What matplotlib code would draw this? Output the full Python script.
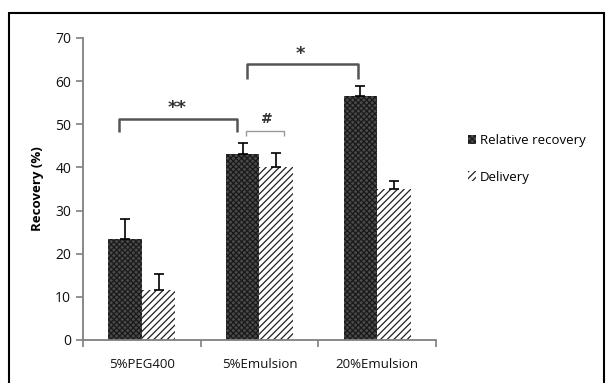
import numpy as np
import matplotlib
matplotlib.use("Agg")
import matplotlib.pyplot as plt
from matplotlib.patches import Rectangle

plt.rcParams['font.family'] = ['Open Sans', 'DejaVu Sans']
plt.rcParams['hatch.linewidth'] = 0.9

# data
groups = ["5%PEG400", "5%Emulsion", "20%Emulsion"]
relative_recovery = [23.5, 43.0, 56.5]
relative_err = [4.5, 2.7, 2.3]
delivery = [11.7, 40.2, 35.0]
delivery_err = [3.6, 3.1, 1.8]

fig = plt.figure(figsize=(6.08, 3.83), dpi=100)
ax = fig.add_axes([0.1365, 0.1123, 0.5806, 0.7885])

x = np.arange(len(groups))
w = 0.285
ax.bar(x - w / 2, relative_recovery, w, facecolor='#4a4a4a', edgecolor='#1a1a1a',
       hatch='xxxxxx', linewidth=0, label='Relative recovery')
ax.bar(x + w / 2, delivery, w, facecolor='white', edgecolor='#202020',
       hatch='/////', linewidth=0, label='Delivery')
ax.errorbar(x - w / 2, relative_recovery, yerr=[np.zeros(3), relative_err], fmt='none',
            ecolor='black', elinewidth=1.2, capsize=3.5, capthick=1.2)
ax.errorbar(x + w / 2, delivery, yerr=[np.zeros(3), delivery_err], fmt='none',
            ecolor='black', elinewidth=1.2, capsize=3.5, capthick=1.2)


def bracket(x0, x1, ylow, yhigh, text, ty, tx, color='#555555', lw=1.8, fs=13):
    ax.plot([x0, x0, x1, x1], [ylow, yhigh, yhigh, ylow], color=color, lw=lw,
            solid_capstyle='butt')
    ax.text(tx, ty, text, ha='center', va='center', fontsize=fs, fontweight='bold',
            color='#333333', family='DejaVu Sans')


bracket(-0.194, 0.806, 48.3, 51.2, '**', 53.8, 0.296)
bracket(0.882, 1.207, 47.3, 48.5, '#', 51.3, 1.06, color='#999999', lw=1.0, fs=10)
bracket(0.891, 1.834, 60.4, 64.0, '*', 66.2, 1.344)

ax.set_xlim(-0.5, 2.5)
ax.set_ylim(0, 70)
ax.set_yticks(range(0, 71, 10))
ax.set_xticks(x)
ax.set_xticklabels(groups, fontsize=9.5)
ax.set_xticks([-0.5, 0.5, 1.5, 2.5], minor=True)
ax.tick_params(axis='x', which='major', length=0, pad=13, colors='#111111')
ax.tick_params(axis='x', which='minor', length=5, width=1.2, color='#808080')
ax.tick_params(axis='y', length=5, width=1.2, color='#808080', labelsize=10,
               labelcolor='#111111')
for s in ['top', 'right']:
    ax.spines[s].set_visible(False)
for s in ['left', 'bottom']:
    ax.spines[s].set_color('#808080')
    ax.spines[s].set_linewidth(1.3)
ax.set_ylabel('Recovery (%)', fontsize=9.5, fontweight='bold', labelpad=8)

fig.legend(loc='upper left', bbox_to_anchor=(0.75, 0.68), frameon=False,
           fontsize=9.5, handlelength=0.6, handleheight=0.7, handletextpad=0.3,
           labelspacing=1.75)

fig.patches.append(Rectangle((9 / 608, -0.02), 595 / 608, 1.02 - 13 / 383,
                             transform=fig.transFigure, fill=False,
                             edgecolor='black', linewidth=1.5))

fig.savefig('out.png', dpi=100)
